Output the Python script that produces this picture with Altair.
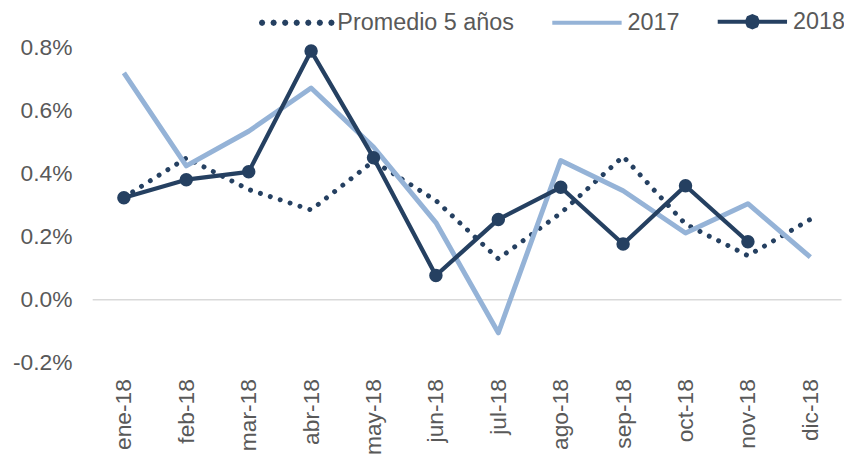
import altair as alt
import pandas as pd
import math

meses = ["ene-18", "feb-18", "mar-18", "abr-18", "may-18", "jun-18",
         "jul-18", "ago-18", "sep-18", "oct-18", "nov-18", "dic-18"]
series = ["Promedio 5 años", "2017", "2018"]
promedio = [0.325, 0.45, 0.35, 0.285, 0.44, 0.315, 0.13, 0.275, 0.455, 0.24, 0.14, 0.255]
v2017 = [0.72, 0.425, 0.535, 0.672, 0.485, 0.245, -0.105, 0.442, 0.346, 0.212, 0.305, 0.135]
v2018 = [0.324, 0.381, 0.406, 0.79, 0.451, 0.077, 0.255, 0.357, 0.177, 0.362, 0.184]
y_ticks = [-0.2, 0.0, 0.2, 0.4, 0.6, 0.8]

NAVY = "#254061"
LIGHT = "#95B3D7"
GREY = "#595959"
FONT = "Liberation Sans"

df_p = pd.DataFrame({"mes": meses, "serie": series[0], "valor": promedio})
df_17 = pd.DataFrame({"mes": meses, "serie": series[1], "valor": v2017})
df_18 = pd.DataFrame({"mes": meses[:len(v2018)], "serie": series[2], "valor": v2018})
df_leg = pd.DataFrame({"mes": [meses[0]] * 3, "serie": series, "valor": [None] * 3})
df_zero = pd.DataFrame({"valor": [0.0]})


def octagon(cx, r):
    pts = [(cx + r * math.cos(k * math.pi / 4), r * math.sin(k * math.pi / 4)) for k in range(8)]
    return "M" + "L".join(f"{x:.4f},{y:.4f}" for x, y in pts) + "Z"


# legend symbol shapes (unit box paths)
dots = "".join(octagon(-1 + i * (2 / 6), 0.03) for i in range(7))
LINE = "M-1,0L1,0"
LINE_DOT = "M-1,0L1,0" + octagon(0, 0.16)

x_enc = alt.X("mes:N", sort=meses, title=None,
              axis=alt.Axis(labelAngle=-90, labelPadding=16, ticks=False, domain=False, grid=False,
                            labelFont=FONT, labelFontSize=23, labelColor=GREY))
y_enc = alt.Y("valor:Q", title=None,
              scale=alt.Scale(domain=[-0.2, 0.8], nice=False),
              axis=alt.Axis(values=y_ticks,
                            labelExpr="(datum.value < 0 ? '-' : '') + format(abs(datum.value), '.1f') + '%'",
                            grid=False, ticks=False, domain=False, labelPadding=21,
                            labelFont=FONT, labelFontSize=23, labelColor=GREY))

zero = alt.Chart(df_zero).mark_rule(color="#D9D9D9", strokeWidth=1.5).encode(y=y_enc)

l_prom = alt.Chart(df_p).mark_line(color=NAVY, strokeWidth=5, strokeCap="round",
                                   strokeDash=[0.001, 10.5]).encode(x=x_enc, y=y_enc)
l_17 = alt.Chart(df_17).mark_line(color=LIGHT, strokeWidth=5, strokeJoin="round").encode(x=x_enc, y=y_enc)
l_18 = alt.Chart(df_18).mark_line(color=NAVY, strokeWidth=4.3, strokeJoin="round").encode(x=x_enc, y=y_enc)
p_18 = alt.Chart(df_18).mark_circle(color=NAVY, size=185, opacity=1).encode(x=x_enc, y=y_enc)

leg = alt.Legend(title=None, orient="none", legendX=169, legendY=-63.5,
                 direction="horizontal", symbolSize=4900,
                 symbolStrokeWidth=4, symbolOpacity=1,
                 labelFont=FONT, labelFontSize=23.6, labelColor=GREY,
                 labelOffset=4, labelLimit=400, columnPadding=30)

legend_layer = alt.Chart(df_leg).mark_point(filled=False, fill=NAVY, strokeWidth=4).encode(
    x=x_enc, y=y_enc,
    color=alt.Color("serie:N", scale=alt.Scale(domain=series, range=[NAVY, LIGHT, NAVY]), legend=leg),
    shape=alt.Shape("serie:N", scale=alt.Scale(domain=series, range=[dots, LINE, LINE_DOT]), legend=leg),
)

chart = alt.layer(zero, l_prom, l_17, l_18, p_18, legend_layer).properties(
    width=756, height=318,
    background="white",
    autosize=alt.AutoSizeParams(type="none"),
    padding={"left": 85.5, "top": 38, "right": 2.5, "bottom": 90},
).configure_view(stroke="transparent", strokeWidth=0).configure_axis(
    domain=False, grid=False, ticks=False
)

chart.save("out.html", embed_options={"renderer": "svg", "actions": False})
